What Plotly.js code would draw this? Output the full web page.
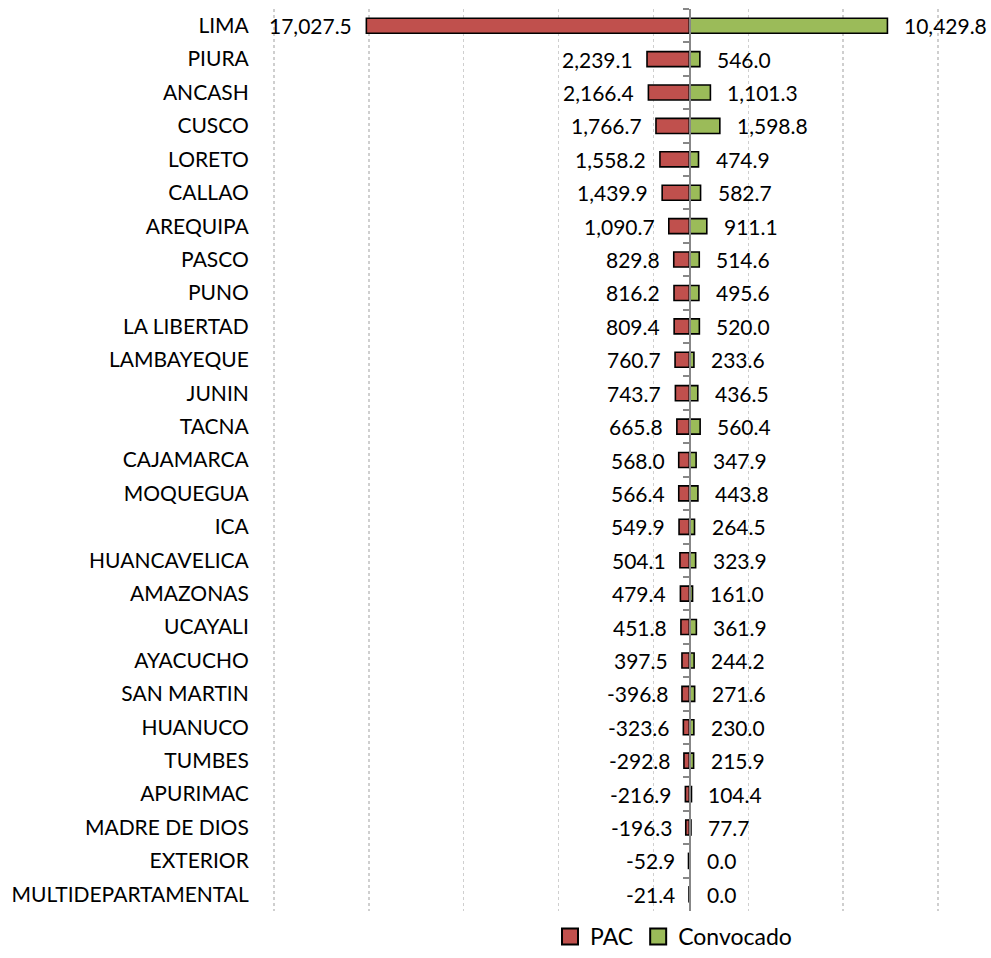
<!DOCTYPE html>
<html>
<head>
<meta charset="utf-8">
<script src="https://cdn.plot.ly/plotly-3.0.1.min.js"></script>
<style>html,body{margin:0;padding:0;background:#fff;}#chart{width:991px;height:958px;}</style>
</head>
<body>
<div id="chart"></div>
<script>
const categories = ["LIMA","PIURA","ANCASH","CUSCO","LORETO","CALLAO","AREQUIPA","PASCO","PUNO","LA LIBERTAD","LAMBAYEQUE","JUNIN","TACNA","CAJAMARCA","MOQUEGUA","ICA","HUANCAVELICA","AMAZONAS","UCAYALI","AYACUCHO","SAN MARTIN","HUANUCO","TUMBES","APURIMAC","MADRE DE DIOS","EXTERIOR","MULTIDEPARTAMENTAL"];
const pacLabels = [17027.5,2239.1,2166.4,1766.7,1558.2,1439.9,1090.7,829.8,816.2,809.4,760.7,743.7,665.8,568.0,566.4,549.9,504.1,479.4,451.8,397.5,-396.8,-323.6,-292.8,-216.9,-196.3,-52.9,-21.4];
const convocado = [10429.8,546.0,1101.3,1598.8,474.9,582.7,911.1,514.6,495.6,520.0,233.6,436.5,560.4,347.9,443.8,264.5,323.9,161.0,361.9,244.2,271.6,230.0,215.9,104.4,77.7,0.0,0.0];
const xTicks = [-21900,-16900,-11900,-6900,-1900,3100,8100,13100];

const pacBars = pacLabels.map(v => -Math.abs(v));
const fmt = v => v.toLocaleString('en-US',{minimumFractionDigits:1,maximumFractionDigits:1});
const FONT = 'Lato, "Open Sans", sans-serif';
const FS = 21;
const xmin = -22000, xmax = 13200;
const RED = '#C0504D', GREEN = '#9BBB59';

const traces = [
  {type:'bar', orientation:'h', name:'PAC', y:categories, x:pacBars, width:0.45, showlegend:false,
   marker:{color:RED, line:{color:'#000000', width:1.6}}, hoverinfo:'skip', yaxis:'y'},
  {type:'bar', orientation:'h', name:'Convocado', y:categories, x:convocado, width:0.45, showlegend:false,
   marker:{color:GREEN, line:{color:'#000000', width:1.6}}, hoverinfo:'skip', yaxis:'y2'},
  {type:'scatter', mode:'markers', name:'PAC', x:[null], y:[null], showlegend:true, hoverinfo:'skip',
   marker:{symbol:'square', size:16, color:RED, line:{color:'#000', width:2}}},
  {type:'scatter', mode:'markers', name:'Convocado', x:[null], y:[null], showlegend:true, hoverinfo:'skip',
   marker:{symbol:'square', size:16, color:GREEN, line:{color:'#000', width:2}}}
];

const annotations = [];
categories.forEach((c,i)=>{
  annotations.push({x:pacBars[i], y:c, xref:'x', yref:'y', text:fmt(pacLabels[i]), showarrow:false,
    xanchor:'right', yanchor:'middle', xshift:-12, font:{family:FONT, size:FS, color:'#000'}});
  annotations.push({x:convocado[i], y:c, xref:'x', yref:'y', text:fmt(convocado[i]), showarrow:false,
    xanchor:'left', yanchor:'middle', xshift:15, font:{family:FONT, size:FS, color:'#000'}});
});

const layout = {
  width:991, height:958,
  margin:{l:272, r:51, t:9, b:47},
  paper_bgcolor:'#ffffff', plot_bgcolor:'#ffffff',
  barmode:'relative',
  font:{family:FONT, size:FS, color:'#000'},
  showlegend:true,
  legend:{orientation:'h', xref:'container', yref:'container', x:0.555, xanchor:'left', y:0, yanchor:'bottom',
          borderwidth:0, font:{family:FONT, size:23, color:'#000'}, traceorder:'normal'},
  xaxis:{range:[xmin,xmax], tickvals:xTicks, showticklabels:false, showgrid:true,
         gridcolor:'#cfcfcf', griddash:'dot', gridwidth:1.5, zeroline:false, showline:false, ticks:''},
  yaxis:{type:'category', categoryorder:'array', categoryarray:categories, range:[26.5,-0.5],
         showgrid:false, showline:false, ticks:'outside', ticklen:18, tickcolor:'rgba(0,0,0,0)',
         tickfont:{family:FONT, size:FS, color:'#000'}},
  yaxis2:{type:'category', overlaying:'y', matches:'y', anchor:'free',
          position:(0 - xmin)/(xmax - xmin), side:'left',
          showline:true, linecolor:'#878787', linewidth:2.5, ticks:'outside', ticklen:6,
          tickcolor:'#878787', tickwidth:2, tickson:'boundaries', showticklabels:false, showgrid:false},
  annotations:annotations
};

Plotly.newPlot('chart', traces, layout, {staticPlot:true, displayModeBar:false});
</script>
</body>
</html>
